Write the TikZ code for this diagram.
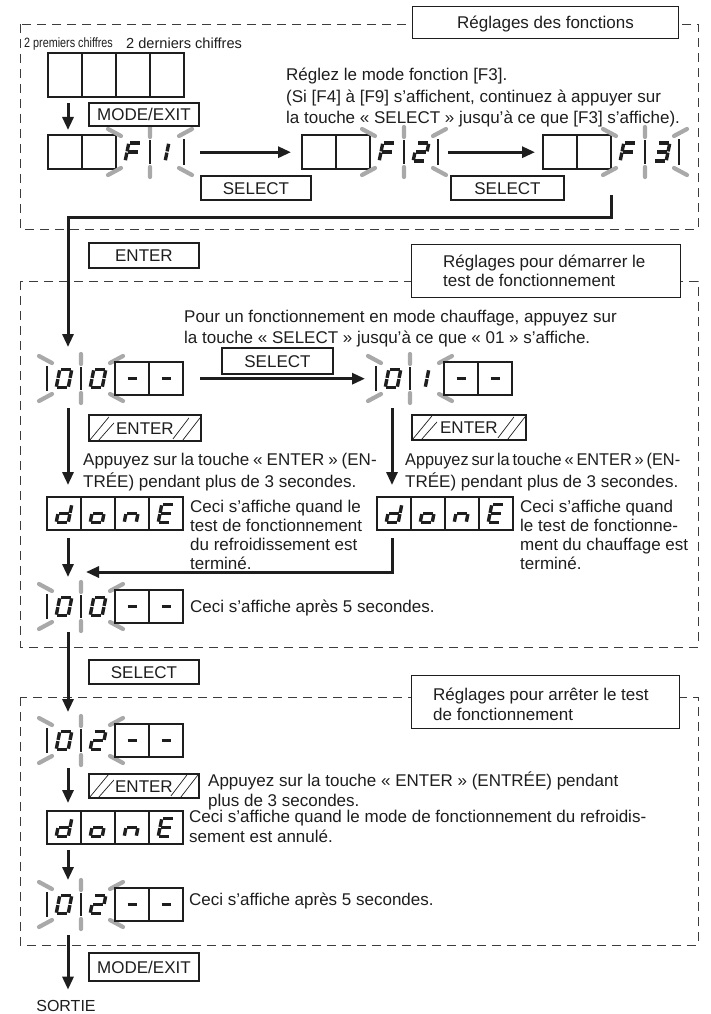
\documentclass[tikz,border=0pt]{standalone}
\usepackage{fontspec}
\setmainfont{Liberation Sans}
\usetikzlibrary{arrows.meta,calc}

\definecolor{ink}{HTML}{1E1E1E}
\definecolor{rayc}{HTML}{A9A9A9}
\definecolor{dashc}{HTML}{3C3C3C}

\tikzset{
  cell/.style={draw=ink, line width=1.1pt},
  seg/.style={draw=ink, line width=3.4pt},
  blinkray/.style={draw=rayc, line width=4.2pt, line cap=round},
  keybox/.style={draw=ink, line width=1.9pt, fill=white, inner sep=0pt, anchor=north west,
    text=ink, font=\fontsize{17}{20}\selectfont, text height=12.3pt, text depth=0pt},
  hatched/.style={keybox, path picture={
      \draw[ink, line width=0.7pt]
        ($(path picture bounding box.south west)+(1pt,1pt)$) -- ++(19pt,23pt)
        ($(path picture bounding box.south west)+(10pt,1pt)$) -- ++(15pt,17pt)
        ($(path picture bounding box.south east)+(-28pt,2pt)$) -- ++(16pt,21pt)
        ($(path picture bounding box.south east)+(-18pt,1pt)$) -- ++(17pt,22pt);}},
  titlebox/.style={draw=ink, line width=1pt, fill=white, anchor=north west, inner sep=0pt,
    text=ink, font=\fontsize{17}{19.5}\selectfont},
  sectionframe/.style={draw=dashc, line width=0.9pt, dash pattern=on 9pt off 6pt},
  flow/.style={draw=ink, line width=3pt, -{Triangle[width=11pt,length=13pt]}},
  note/.style={anchor=north west, inner sep=0pt, align=left, text=ink,
    font=\fontsize{17}{20}\selectfont},
  lcd/.style={inner sep=0pt, minimum width=136pt, anchor=north west, draw=none},
}

% seven-segment strokes, local frame in pt, y upwards
\newcommand\segA{\draw[seg] (-5,9) -- (5,9);}
\newcommand\segB{\draw[seg] (6,8.2) -- (6,0.6);}
\newcommand\segC{\draw[seg] (6,-0.6) -- (6,-8.2);}
\newcommand\segD{\draw[seg] (-5,-9) -- (5,-9);}
\newcommand\segE{\draw[seg] (-6,-0.6) -- (-6,-8.2);}
\newcommand\segF{\draw[seg] (-6,8.2) -- (-6,0.6);}
\newcommand\segG{\draw[seg] (-5,0) -- (5,0);}
% \glyph[x offset]{(centre)}{segments}
\newcommand\glyph[3][0]{%
  \edef\seglist{#3}%
  \begin{scope}[shift={#2}, shift={(#1,0)}, x=1pt, y=1pt, xslant=0.2]
    \foreach \s in \seglist {\csname seg\s\endcsname}
  \end{scope}}
\newcommand\lcddash[1]{\draw[ink, line width=3pt] ($#1+(-4.5,0)$) -- ($#1+(4.5,0)$);}
% plain cells: x, y, number of cells, height
\newcommand\cells[4]{%
  \draw[cell] (#1,#2) rectangle ++(#3*34,#4);
  \foreach \k in {2,...,#3}{\draw[cell] (#1+\k*34-34,#2) -- ++(0,#4);}}
% blinking pair of cells: x, y, height
\newcommand\blink[3]{%
  \draw[blinkray] (#1-8,#2-6) -- (#1+5,#2+1)
     (#1+34,#2-8) -- (#1+34,#2+2)
     (#1+76,#2-6) -- (#1+63,#2+1)
     (#1-8,#2+#3+6) -- (#1+5,#2+#3-1)
     (#1+34,#2+#3+8) -- (#1+34,#2+#3-2)
     (#1+76,#2+#3+6) -- (#1+63,#2+#3-1);
  \draw[cell] (#1,#2+4) -- (#1,#2+#3-4)
              (#1+34,#2+5) -- (#1+34,#2+#3-5)
              (#1+68,#2+4) -- (#1+68,#2+#3-4);}

\def\zero{A,B,C,D,E,F}
\def\two{A,B,G,E,D}
\def\three{A,B,G,C,D}
\def\eff{A,F,G,E}
\def\dee{B,C,D,E,G}
\def\oh{C,D,E,G}
\def\en{C,E,G}
\def\ee{A,F,G,E,D}

\begin{document}
\begin{tikzpicture}[x=1pt, y=-1pt]
\useasboundingbox (0,0) rectangle (710,1014);
\fill[white] (0,0) rectangle (710,1014);

% ---- dashed section frames
\draw[sectionframe] (20,24) rectangle (698,229);
\draw[sectionframe] (20,281) rectangle (698,647);
\draw[sectionframe] (20,697) rectangle (698,945);

% ---- section titles
\node[titlebox, minimum width=266pt, minimum height=32pt, text height=12.3pt, text depth=0pt] (t1) at (412,6) {Réglages des fonctions};
\node[titlebox, minimum width=269pt, minimum height=53pt] (t2) at (411,244) {};
\node[note, font=\fontsize{17}{19.5}\selectfont] (t2text) at (443,253.5) {\strut Réglages pour démarrer le\\test de fonctionnement};
\node[titlebox, minimum width=268pt, minimum height=53pt] (t3) at (411,675) {};
\node[note, font=\fontsize{17}{20}\selectfont] (t3text) at (433,686.5) {\strut Réglages pour arrêter le test\\de fonctionnement};

% ---- column coordinates for the vertical flow
\coordinate (colA) at (68,0);
\coordinate (colC) at (392,0);
\coordinate (bendR) at (611,217);
\coordinate (bendL) at (68,217);
\coordinate (mergeR) at (392,572);
\coordinate (mergeL) at (86,572);

% ---- displays
\node[lcd, minimum height=44pt] (d1) at (48,53) {};
\cells{48}{53}{4}{44}

\node[lcd, minimum height=34pt] (d2) at (48,135) {};
\cells{48}{135}{2}{34}
\blink{116}{135}{34}
\glyph{(133,152)}{\eff}
\glyph[-6]{(167,152)}{B,C}

\node[lcd, minimum height=34pt] (d3) at (302,135) {};
\cells{302}{135}{2}{34}
\blink{370}{135}{34}
\glyph{(387,152)}{\eff}
\glyph{(421,152)}{\two}

\node[lcd, minimum height=34pt] (d4) at (543,135) {};
\cells{543}{135}{2}{34}
\blink{611}{135}{34}
\glyph{(628,152)}{\eff}
\glyph{(662,152)}{\three}

\node[lcd, minimum height=33pt] (d5) at (47,362) {};
\blink{47}{362}{33}
\cells{115}{362}{2}{33}
\glyph{(64,378.5)}{\zero}
\glyph{(98,378.5)}{\zero}
\lcddash{(132,378.5)}
\lcddash{(166,378.5)}

\node[lcd, minimum height=33pt] (d6) at (376,362) {};
\blink{376}{362}{33}
\cells{444}{362}{2}{33}
\glyph{(393,378.5)}{\zero}
\glyph[-6]{(427,378.5)}{B,C}
\lcddash{(461,378.5)}
\lcddash{(495,378.5)}

\node[lcd, minimum height=33pt] (d7) at (47,497) {};
\cells{47}{497}{4}{33}
\glyph{(64,513.5)}{\dee}
\glyph{(98,513.5)}{\oh}
\glyph{(132,513.5)}{\en}
\glyph{(166,513.5)}{\ee}

\node[lcd, minimum height=33pt] (d8) at (377,497) {};
\cells{377}{497}{4}{33}
\glyph{(394,513.5)}{\dee}
\glyph{(428,513.5)}{\oh}
\glyph{(462,513.5)}{\en}
\glyph{(496,513.5)}{\ee}

\node[lcd, minimum height=33pt] (d9) at (47,590) {};
\blink{47}{590}{33}
\cells{115}{590}{2}{33}
\glyph{(64,606.5)}{\zero}
\glyph{(98,606.5)}{\zero}
\lcddash{(132,606.5)}
\lcddash{(166,606.5)}

\node[lcd, minimum height=33pt] (d10) at (47,724) {};
\blink{47}{724}{33}
\cells{115}{724}{2}{33}
\glyph{(64,740.5)}{\zero}
\glyph{(98,740.5)}{\two}
\lcddash{(132,740.5)}
\lcddash{(166,740.5)}

\node[lcd, minimum height=33pt] (d11) at (47,811) {};
\cells{47}{811}{4}{33}
\glyph{(64,827.5)}{\dee}
\glyph{(98,827.5)}{\oh}
\glyph{(132,827.5)}{\en}
\glyph{(166,827.5)}{\ee}

\node[lcd, minimum height=33pt] (d12) at (47,888) {};
\blink{47}{888}{33}
\cells{115}{888}{2}{33}
\glyph{(64,904.5)}{\zero}
\glyph{(98,904.5)}{\two}
\lcddash{(132,904.5)}
\lcddash{(166,904.5)}

% ---- key labels
\node[keybox, minimum width=110pt, minimum height=23pt] (k1) at (88,102) {MODE/EXIT};
\node[keybox, minimum width=110pt, minimum height=24pt] (k2) at (200,175) {SELECT};
\node[keybox, minimum width=113pt, minimum height=24pt] (k3) at (450,175) {SELECT};
\node[keybox, minimum width=110pt, minimum height=25pt] (k4) at (88,242) {ENTER};
\node[keybox, minimum width=111pt, minimum height=26pt] (k5) at (221,347) {SELECT};
\node[hatched, minimum width=112pt, minimum height=26pt] (k6) at (88,414) {ENTER};
\node[hatched, minimum width=114pt, minimum height=25pt] (k7) at (411,414) {ENTER};
\node[keybox, minimum width=110pt, minimum height=24pt] (k8) at (88,659) {SELECT};
\node[hatched, minimum width=110pt, minimum height=24pt] (k9) at (88,773) {ENTER};
\node[keybox, minimum width=110pt, minimum height=28pt] (k10) at (88,952) {MODE/EXIT};

% ---- captions
\node[anchor=base west, inner sep=0pt, text=ink] (lab1) at (24,48)
  {\scalebox{0.8}[1]{\fontsize{13.5}{14}\selectfont 2 premiers chiffres}};
\node[anchor=base west, inner sep=0pt, text=ink, font=\fontsize{14.6}{16}\selectfont] (lab2) at (126,48.5) {2 derniers chiffres};

\node[note, font=\fontsize{17}{21.5}\selectfont] (n1) at (286,65.5)
  {\strut Réglez le mode fonction [F3].\\(Si [F4] à [F9] s’affichent, continuez à appuyer sur\\la touche « SELECT » jusqu’à ce que [F3] s’affiche).};
\node[note, font=\fontsize{17}{21}\selectfont] (n2) at (184,307.5)
  {\strut Pour un fonctionnement en mode chauffage, appuyez sur\\la touche « SELECT » jusqu’à ce que « 01 » s’affiche.};
\node[note] (n3) at (83,451.5)
  {{\strut\spaceskip=4pt\relax Appuyez sur la touche « ENTER » (EN-}\\TRÉE) pendant plus de 3 secondes.};
\node[note] (n4) at (405,451.5)
  {\scalebox{0.96}[1]{\strut\spaceskip=3pt\relax Appuyez sur la touche « ENTER » (EN-}\\TRÉE) pendant plus de 3 secondes.};
\node[note, font=\fontsize{17}{19}\selectfont] (n5) at (190,498.5)
  {\strut Ceci s’affiche quand le\\test de fonctionnement\\du refroidissement est\\terminé.};
\node[note, font=\fontsize{17}{19}\selectfont] (n6) at (520,498.5)
  {\strut Ceci s’affiche quand\\le test de fonctionne-\\ment du chauffage est\\terminé.};
\node[note] (n7) at (190,598.5) {\strut Ceci s’affiche après 5 secondes.};
\node[note] (n8) at (208,771.5)
  {\strut Appuyez sur la touche « ENTER » (ENTRÉE) pendant\\plus de 3 secondes.};
\node[note] (n9) at (189,808.5)
  {\strut Ceci s’affiche quand le mode de fonctionnement du refroidis-\\sement est annulé.};
\node[note] (n10) at (189,891.5) {\strut Ceci s’affiche après 5 secondes.};
\node[anchor=base, inner sep=0pt, text=ink, font=\fontsize{16}{18}\selectfont] (sortie) at (66,1011) {SORTIE};

% ---- flow connectors
\draw[flow, shorten <=6pt, shorten >=5pt] (d1.south -| colA) -- (d2.north -| colA);
\draw[flow, shorten <=16pt, shorten >=11pt] (d2.east) -- (d3.west);
\draw[flow, shorten <=10pt, shorten >=8pt] (d3.east) -- (d4.west);
\draw[flow, shorten <=26pt, shorten >=15pt] (d4.south -| bendR) -- (bendR) -- (bendL) -- (d5.north -| bendL);
\draw[flow, shorten <=17pt, shorten >=11pt] (d5.east) -- (d6.west);
\draw[flow, shorten <=13pt, shorten >=12pt] (d5.south -| colA) -- (d7.north -| colA);
\draw[flow, shorten <=13pt, shorten >=12pt] (d6.south -| colC) -- (d8.north -| colC);
\draw[flow, shorten <=8pt, shorten >=13pt] (d7.south -| colA) -- (d9.north -| colA);
\draw[flow, shorten <=8pt] (d8.south -| mergeR) -- (mergeR) -- (mergeL);
\draw[flow, shorten <=9pt, shorten >=12pt] (d9.south -| colA) -- (d10.north -| colA);
\draw[flow, shorten <=11pt, shorten >=8pt] (d10.south -| colA) -- (d11.north -| colA);
\draw[flow, shorten <=6pt, shorten >=8pt] (d11.south -| colA) -- (d12.north -| colA);
\draw[flow, shorten <=14pt, shorten >=10pt] (d12.south -| colA) -- (sortie.north -| colA);
\end{tikzpicture}
\end{document}
